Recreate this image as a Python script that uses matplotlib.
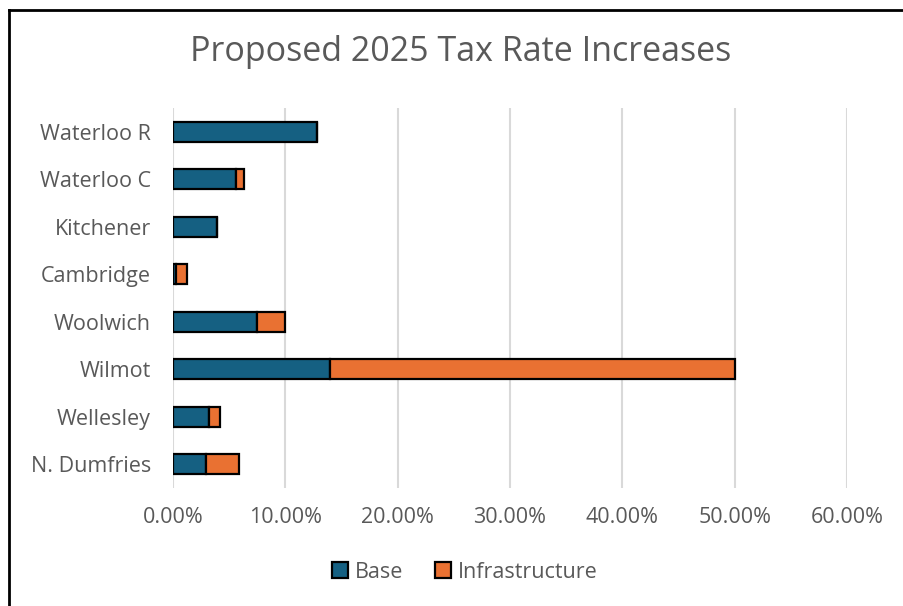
import matplotlib
matplotlib.use("Agg")
import matplotlib.pyplot as plt
from matplotlib.lines import Line2D
from matplotlib.ticker import PercentFormatter

plt.rcParams['font.family'] = ['Open Sans', 'DejaVu Sans']

municipalities = ['Waterloo R', 'Waterloo C', 'Kitchener', 'Cambridge',
                  'Woolwich', 'Wilmot', 'Wellesley', 'N. Dumfries']
base = [12.8, 5.6, 3.9, 0.25, 7.5, 14.0, 3.2, 2.9]
infrastructure = [0.0, 0.75, 0.0, 1.0, 2.5, 36.0, 1.0, 3.0]
x_ticks = [0, 10, 20, 30, 40, 50, 60]

base_color = '#156082'
infra_color = '#E97132'
text_color = '#595959'

fig = plt.figure(figsize=(9.04, 6.06), dpi=100)
ax = fig.add_axes([0.1914, 0.195, 0.7456, 0.627])

y = list(range(len(municipalities)))
ax.barh(y, base, height=0.42, color=base_color, edgecolor='black', linewidth=1.6,
        label='Base', zorder=3)
ax.barh(y, infrastructure, left=base, height=0.42, color=infra_color,
        edgecolor='black', linewidth=1.6, label='Infrastructure', zorder=3)

ax.set_yticks(y)
ax.set_yticklabels(municipalities)
ax.set_ylim(len(municipalities) - 0.5, -0.5)

ax.set_xlim(0, 60)
ax.set_xticks(x_ticks)
ax.xaxis.set_major_formatter(PercentFormatter(decimals=2))
ax.grid(axis='x', color='#d9d9d9', linewidth=1.5, zorder=0)
ax.tick_params(axis='both', length=0, labelsize=15.5, labelcolor=text_color)
ax.tick_params(axis='x', pad=14)
ax.tick_params(axis='y', pad=16)
for s in ax.spines.values():
    s.set_visible(False)

fig.text(0.509, 0.914, 'Proposed 2025 Tax Rate Increases', fontsize=24.5,
         color=text_color, ha='center', va='center')

fig.legend(loc='center', bbox_to_anchor=(0.514, 0.056), ncol=2, frameon=False,
           fontsize=15.5, labelcolor=text_color, handlelength=0.75, handleheight=0.75,
           handletextpad=0.3, columnspacing=1.5)

# outer chart border (left and top only visible in the reference)
fig.add_artist(Line2D([0.0098, 0.0098], [0, 0.984], transform=fig.transFigure,
                      color='black', linewidth=2))
fig.add_artist(Line2D([0.0098, 1], [0.984, 0.984], transform=fig.transFigure,
                      color='black', linewidth=2))

fig.savefig('out.png', dpi=100)
